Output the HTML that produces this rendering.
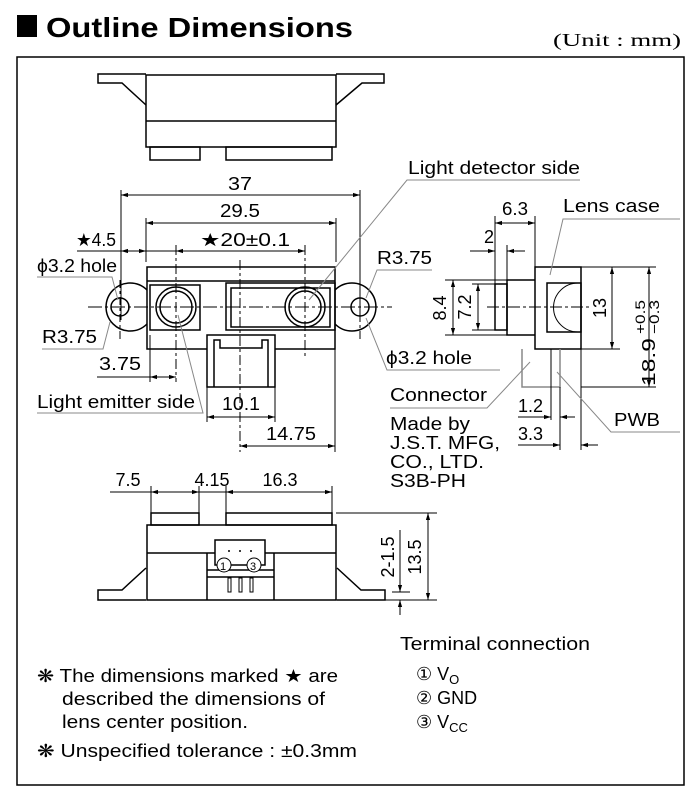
<!DOCTYPE html>
<html><head><meta charset="utf-8"><style>
html,body{margin:0;padding:0;background:#fff;}
svg{display:block;font-family:"Liberation Sans",sans-serif;}
</style></head><body>
<svg width="700" height="795" viewBox="0 0 700 795" xmlns="http://www.w3.org/2000/svg">
<defs>
<marker id="a" viewBox="0 0 10 10" refX="10" refY="5" markerWidth="7" markerHeight="7" orient="auto-start-reverse"><path d="M0,2 L10,5 L0,8z" fill="#000"/></marker>
</defs>
<rect x="17" y="15" width="20" height="22" fill="#000"/>
<text x="46" y="37" font-size="28" font-weight="bold" textLength="307" lengthAdjust="spacingAndGlyphs">Outline Dimensions</text>
<text x="553" y="46" font-size="18" font-family="Liberation Serif,serif" textLength="128" lengthAdjust="spacingAndGlyphs">(Unit : mm)</text>
<rect x="17" y="57" width="667" height="728" fill="none" stroke="#000" stroke-width="1.5"/>

<g fill="none" stroke="#000" stroke-width="1.5">
<rect x="146" y="75" width="190" height="72"/>
<line x1="146" y1="121" x2="336" y2="121"/>
<path d="M146,74 H98 V83 H122 L146,105"/>
<path d="M336,74 H384 V83 H362 L336,105"/>
<rect x="150" y="147" width="50" height="13"/>
<rect x="226" y="147" width="106" height="13"/>
</g>
<g stroke="#000" stroke-width="1" fill="none">
<line x1="121" y1="190" x2="121" y2="320"/><line x1="360" y1="190" x2="360" y2="320"/>
<line x1="121" y1="195" x2="360" y2="195" marker-start="url(#a)" marker-end="url(#a)"/>
<line x1="146" y1="218" x2="146" y2="262"/><line x1="336" y1="218" x2="336" y2="262"/>
<line x1="146" y1="223" x2="336" y2="223" marker-start="url(#a)" marker-end="url(#a)"/>
<line x1="77" y1="251" x2="305" y2="251"/>
<line x1="121" y1="251" x2="146" y2="251" marker-start="url(#a)" marker-end="url(#a)"/>
<line x1="176" y1="251" x2="305" y2="251" marker-start="url(#a)" marker-end="url(#a)"/>
</g>
<g font-size="18" fill="#000">
<text x="240" y="190" text-anchor="middle" textLength="24" lengthAdjust="spacingAndGlyphs">37</text>
<text x="240" y="217" text-anchor="middle" textLength="40" lengthAdjust="spacingAndGlyphs">29.5</text>
<text x="76" y="246" textLength="40" lengthAdjust="spacingAndGlyphs">★4.5</text>
<text x="200" y="246" textLength="90" lengthAdjust="spacingAndGlyphs">★20±0.1</text>
</g>

<g fill="none" stroke="#000" stroke-width="1.5">
<rect x="147" y="267" width="188" height="82"/>
<line x1="147" y1="281" x2="335" y2="281"/>
<rect x="150" y="285" width="50" height="45"/>
<rect x="226" y="283" width="109" height="47"/>
<rect x="231" y="288" width="99" height="39"/>
<circle cx="176" cy="307" r="20"/><circle cx="176" cy="307" r="16"/>
<circle cx="305" cy="307" r="20"/><circle cx="305" cy="307" r="16"/>
<path d="M147,290 A24,24 0 1 0 147,324"/><circle cx="120" cy="307" r="9"/>
<path d="M335,290 A24,24 0 1 1 335,324"/><circle cx="360" cy="307" r="9"/>
<rect x="207" y="335" width="68" height="52" fill="#fff"/>
<path d="M214,387 V340 H220 V348 H262 V340 H268 V387"/>
</g>
<g stroke="#000" stroke-width="1" fill="none">
<line x1="88" y1="307" x2="392" y2="307" stroke-dasharray="14,3,3,3"/>
<line x1="120" y1="280" x2="120" y2="340" stroke-dasharray="8,3,3,3"/>
<line x1="360" y1="280" x2="360" y2="340" stroke-dasharray="8,3,3,3"/>
<line x1="176" y1="245" x2="176" y2="382" stroke-dasharray="10,3,3,3"/>
<line x1="305" y1="245" x2="305" y2="358" stroke-dasharray="10,3,3,3"/>
<line x1="240" y1="260" x2="240" y2="452" stroke-dasharray="10,3,3,3"/>
<line x1="150" y1="335" x2="150" y2="382"/>
<line x1="97" y1="377" x2="176" y2="377"/>
<line x1="150" y1="377" x2="176" y2="377" marker-start="url(#a)" marker-end="url(#a)"/>
<line x1="207" y1="387" x2="207" y2="422"/><line x1="275" y1="387" x2="275" y2="422"/>
<line x1="207" y1="417" x2="275" y2="417" marker-start="url(#a)" marker-end="url(#a)"/>
<line x1="335" y1="349" x2="335" y2="452"/>
<line x1="240" y1="446" x2="335" y2="446" marker-start="url(#a)" marker-end="url(#a)"/>
<path d="M37,277 H112 L118,300" stroke="#888"/>
<path d="M42,349 H103 L110,322" stroke="#888"/>
<path d="M37,413 H203 L178,315" stroke="#888"/>
<path d="M432,270 H377 L366,298" stroke="#888"/>
<path d="M500,370 H387 L366,318" stroke="#888"/>
<path d="M580,180 H407 L309,300" stroke="#888"/>
</g>
<g font-size="18" fill="#000">
<text x="37" y="272" textLength="80" lengthAdjust="spacingAndGlyphs">ϕ3.2 hole</text>
<text x="42" y="343" textLength="55" lengthAdjust="spacingAndGlyphs">R3.75</text>
<text x="99" y="370" textLength="42" lengthAdjust="spacingAndGlyphs">3.75</text>
<text x="37" y="408" textLength="158" lengthAdjust="spacingAndGlyphs">Light emitter side</text>
<text x="241" y="410" text-anchor="middle" textLength="38" lengthAdjust="spacingAndGlyphs">10.1</text>
<text x="291" y="440" text-anchor="middle" textLength="50" lengthAdjust="spacingAndGlyphs">14.75</text>
<text x="377" y="264" textLength="55" lengthAdjust="spacingAndGlyphs">R3.75</text>
<text x="386" y="364" textLength="86" lengthAdjust="spacingAndGlyphs">ϕ3.2 hole</text>
<text x="408" y="174" textLength="172" lengthAdjust="spacingAndGlyphs">Light detector side</text>
</g>

<g fill="none" stroke="#000" stroke-width="1.5">
<rect x="535" y="267" width="46" height="82"/>
<path d="M535,280 H507 V335 H535"/>
<rect x="495" y="284" width="12" height="46"/>
<rect x="547" y="283" width="34" height="49"/>
<path d="M578,283 A24,24 0 0 0 578,332" stroke-width="1"/>
<path d="M522,349 V387 H560 V349" stroke="#888"/>
<line x1="551" y1="349" x2="551" y2="387" stroke-width="1"/>
<line x1="581" y1="349" x2="581" y2="450" stroke-width="1"/>
</g>
<g stroke="#000" stroke-width="1" fill="none">
<line x1="487" y1="307" x2="592" y2="307" stroke-dasharray="12,3,3,3"/>
<line x1="495" y1="216" x2="495" y2="284"/><line x1="535" y1="216" x2="535" y2="267"/>
<line x1="495" y1="223" x2="535" y2="223" marker-start="url(#a)" marker-end="url(#a)"/>
<line x1="507" y1="245" x2="507" y2="280"/>
<line x1="470" y1="251" x2="495" y2="251" marker-end="url(#a)"/>
<line x1="525" y1="251" x2="507" y2="251" marker-end="url(#a)"/>
<line x1="445" y1="280" x2="507" y2="280"/><line x1="445" y1="335" x2="507" y2="335"/>
<line x1="453" y1="280" x2="453" y2="335" marker-start="url(#a)" marker-end="url(#a)"/>
<line x1="472" y1="284" x2="495" y2="284"/><line x1="472" y1="330" x2="495" y2="330"/>
<line x1="478" y1="284" x2="478" y2="330" marker-start="url(#a)" marker-end="url(#a)"/>
<line x1="581" y1="267" x2="656" y2="267"/><line x1="581" y1="349" x2="620" y2="349"/>
<line x1="581" y1="387" x2="656" y2="387"/>
<line x1="612" y1="267" x2="612" y2="349" marker-start="url(#a)" marker-end="url(#a)"/>
<line x1="649" y1="267" x2="649" y2="387" marker-start="url(#a)" marker-end="url(#a)"/>
<line x1="551" y1="387" x2="551" y2="420"/><line x1="560" y1="387" x2="560" y2="450"/>
<line x1="518" y1="417" x2="551" y2="417" marker-end="url(#a)"/>
<line x1="575" y1="417" x2="560" y2="417" marker-end="url(#a)"/>
<line x1="518" y1="445" x2="560" y2="445" marker-end="url(#a)"/>
<line x1="598" y1="445" x2="581" y2="445" marker-end="url(#a)"/>
<path d="M680,219 H563 L550,275" stroke="#888"/>
<path d="M390,408 H487 L530,362" stroke="#888"/>
<path d="M680,432 H611 L557,372" stroke="#888"/>
</g>
<g font-size="18" fill="#000">
<text x="515" y="215" text-anchor="middle" textLength="26" lengthAdjust="spacingAndGlyphs">6.3</text>
<text x="484" y="243">2</text>
<text x="563" y="212" textLength="97" lengthAdjust="spacingAndGlyphs">Lens case</text>
<text transform="translate(446,308) rotate(-90)" text-anchor="middle">8.4</text>
<text transform="translate(471,307) rotate(-90)" text-anchor="middle">7.2</text>
<text transform="translate(606,308) rotate(-90)" text-anchor="middle">13</text>
<g transform="translate(655,386) rotate(-90)">
<text x="0" y="0" textLength="48" lengthAdjust="spacingAndGlyphs">18.9</text>
<text x="52" y="-10" font-size="14" textLength="34" lengthAdjust="spacingAndGlyphs">+0.5</text>
<text x="52" y="4" font-size="14" textLength="34" lengthAdjust="spacingAndGlyphs">−0.3</text>
</g>
<text x="390" y="401" textLength="97" lengthAdjust="spacingAndGlyphs">Connector</text>
<text x="518" y="412">1.2</text>
<text x="518" y="440">3.3</text>
<text x="614" y="426" textLength="46" lengthAdjust="spacingAndGlyphs">PWB</text>
<text x="390" y="430" textLength="80" lengthAdjust="spacingAndGlyphs">Made by</text>
<text x="390" y="449" textLength="110" lengthAdjust="spacingAndGlyphs">J.S.T. MFG,</text>
<text x="390" y="468" textLength="94" lengthAdjust="spacingAndGlyphs">CO., LTD.</text>
<text x="390" y="487" textLength="76" lengthAdjust="spacingAndGlyphs">S3B-PH</text>
</g>

<g fill="none" stroke="#000" stroke-width="1.5">
<rect x="151" y="513" width="48" height="12"/>
<rect x="226" y="513" width="106" height="12"/>
<rect x="147" y="525" width="189" height="75"/>
<line x1="147" y1="553" x2="336" y2="553"/>
<path d="M146,568 L122,590 H98 V600 H146"/>
<path d="M337,568 L361,590 H385 V600 H337"/>
<rect x="215" y="540" width="50" height="25" fill="#fff"/>
<path d="M207,600 V553 M274,600 V553"/>
<line x1="207" y1="570" x2="274" y2="570"/>
<line x1="207" y1="577" x2="274" y2="577"/>
<circle cx="224" cy="565" r="7" fill="#fff" stroke-width="1"/>
<circle cx="254" cy="565" r="7" fill="#fff" stroke-width="1"/>
<rect x="228" y="578" width="3" height="14" stroke-width="1"/>
<rect x="239" y="578" width="3" height="14" stroke-width="1"/>
<rect x="250" y="578" width="3" height="14" stroke-width="1"/>
</g>
<g fill="#000"><circle cx="229" cy="551" r="1"/><circle cx="240" cy="551" r="1"/><circle cx="251" cy="551" r="1"/></g>
<g stroke="#000" stroke-width="1" fill="none">
<line x1="151" y1="486" x2="151" y2="513"/><line x1="199" y1="486" x2="199" y2="513"/>
<line x1="226" y1="486" x2="226" y2="513"/><line x1="332" y1="486" x2="332" y2="513"/>
<line x1="110" y1="492" x2="226" y2="492"/>
<line x1="151" y1="492" x2="199" y2="492" marker-start="url(#a)" marker-end="url(#a)"/>
<line x1="226" y1="492" x2="332" y2="492" marker-start="url(#a)" marker-end="url(#a)"/>
<line x1="336" y1="513" x2="437" y2="513"/><line x1="336" y1="600" x2="437" y2="600"/>
<line x1="428" y1="513" x2="428" y2="600" marker-start="url(#a)" marker-end="url(#a)"/>
<line x1="392" y1="592" x2="410" y2="592"/>
<line x1="400" y1="530" x2="400" y2="592" marker-end="url(#a)"/>
<line x1="400" y1="615" x2="400" y2="600" marker-end="url(#a)"/>
</g>
<g font-size="18" fill="#000">
<text x="128" y="486" text-anchor="middle">7.5</text>
<text x="212" y="486" text-anchor="middle">4.15</text>
<text x="280" y="486" text-anchor="middle">16.3</text>
<text transform="translate(421,557) rotate(-90)" text-anchor="middle">13.5</text>
<text transform="translate(394,557) rotate(-90)" text-anchor="middle">2-1.5</text>
<text x="220" y="570" font-size="11">1</text>
<text x="250" y="570" font-size="11">3</text>

<text x="400" y="650" textLength="190" lengthAdjust="spacingAndGlyphs">Terminal connection</text>
<text x="416" y="680">① V<tspan font-size="13" dy="4">O</tspan></text>
<text x="416" y="704">② GND</text>
<text x="416" y="728">③ V<tspan font-size="13" dy="4">CC</tspan></text>

<text x="37" y="682" textLength="301" lengthAdjust="spacingAndGlyphs">❋ The dimensions marked ★ are</text>
<text x="62" y="705" textLength="263" lengthAdjust="spacingAndGlyphs">described the dimensions of</text>
<text x="62" y="728" textLength="186" lengthAdjust="spacingAndGlyphs">lens center position.</text>
<text x="37" y="757" textLength="320" lengthAdjust="spacingAndGlyphs">❋ Unspecified tolerance : ±0.3mm</text>
</g>
</svg>
</body></html>
